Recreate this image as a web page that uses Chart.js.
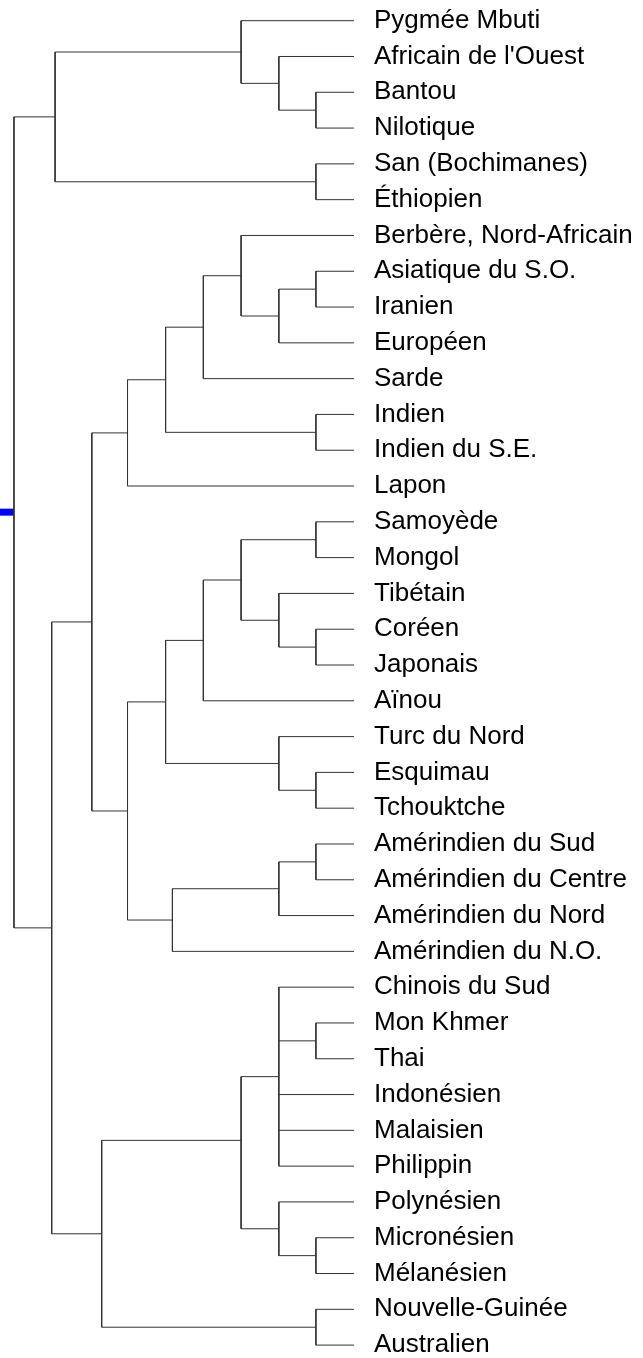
<!DOCTYPE html>
<html>
<head>
<meta charset="utf-8">
<script src="https://cdn.jsdelivr.net/npm/chart.js@4/dist/chart.umd.min.js"></script>
<style>
  html, body { margin: 0; padding: 0; background: #fff; }
  #wrap { position: relative; width: 643px; height: 1358px; }
</style>
</head>
<body>
<div id="wrap"><canvas id="tree"></canvas></div>
<script>
// leaves, top to bottom
const leafNames = [
  "Pygmée Mbuti", "Africain de l'Ouest", "Bantou", "Nilotique",
  "San (Bochimanes)", "Éthiopien", "Berbère, Nord-Africain", "Asiatique du S.O.",
  "Iranien", "Européen", "Sarde", "Indien", "Indien du S.E.", "Lapon",
  "Samoyède", "Mongol", "Tibétain", "Coréen", "Japonais", "Aïnou",
  "Turc du Nord", "Esquimau", "Tchouktche", "Amérindien du Sud",
  "Amérindien du Centre", "Amérindien du Nord", "Amérindien du N.O.",
  "Chinois du Sud", "Mon Khmer", "Thai", "Indonésien", "Malaisien",
  "Philippin", "Polynésien", "Micronésien", "Mélanésien",
  "Nouvelle-Guinée", "Australien"
];

// internal nodes, bottom-up. numbers = leaf index, "N#" = earlier node
const nodeChildren = [
  [2, 3], [1, "N0"], [0, "N1"], [4, 5], ["N2", "N3"],
  [7, 8], ["N5", 9], [6, "N6"], ["N7", 10], [11, 12], ["N8", "N9"], ["N10", 13],
  [14, 15], [17, 18], [16, "N13"], ["N12", "N14"], ["N15", 19],
  [21, 22], [20, "N17"], ["N16", "N18"],
  [23, 24], ["N20", 25], ["N21", 26], ["N19", "N22"], ["N11", "N23"],
  [28, 29], [27, "N25", 30, 31, 32], [34, 35], [33, "N27"], ["N26", "N28"],
  [36, 37], ["N29", "N30"], ["N24", "N31"], ["N4", "N32"]
];

// merge heights (root = 100)
const nodeHeights = [
  11.2, 22.1, 33.2, 11.2, 87.9,
  11.2, 22.1, 33.2, 44.3, 11.2, 55.4, 66.6,
  11.2, 11.2, 22.1, 33.2, 44.3,
  11.2, 22.1, 55.4,
  11.2, 22.1, 53.4, 66.6, 77.1,
  11.2, 22.1, 11.2, 22.1, 33.2,
  11.2, 74.2, 88.9, 100
];

// nodes not drawn at the middle of their children
const rowOverride = { N29: 31.28 };
const stemRow = 13.73;
const heightMax = 104.1;

const rowOf = {};
const heightOf = {};
leafNames.forEach((_, i) => { rowOf[i] = i; heightOf[i] = 0; });

const links = [];
nodeChildren.forEach((kids, n) => {
  const h = nodeHeights[n];
  const rows = kids.map(k => rowOf[k]);
  const top = Math.min(...rows), bottom = Math.max(...rows);
  const id = "N" + n;
  rowOf[id] = rowOverride[id] !== undefined ? rowOverride[id] : (top + bottom) / 2;
  heightOf[id] = h;
  links.push({x: h, y: top}, {x: h, y: bottom}, {x: null, y: null});
  kids.forEach(k => {
    links.push({x: h, y: rowOf[k]}, {x: heightOf[k], y: rowOf[k]}, {x: null, y: null});
  });
});

const rootHeight = nodeHeights[nodeHeights.length - 1];
const stem = [{x: heightMax, y: stemRow}, {x: rootHeight, y: stemRow}];

new Chart(document.getElementById("tree"), {
  type: "line",
  data: {
    datasets: [
      {
        data: links,
        borderColor: "#333",
        borderWidth: 1,
        pointRadius: 0,
        spanGaps: false,
        tension: 0
      },
      {
        data: stem,
        borderColor: "#0000ff",
        borderWidth: 7,
        pointRadius: 0
      }
    ]
  },
  options: {
    responsive: true,
    maintainAspectRatio: false,
    devicePixelRatio: 1,
    animation: false,
    layout: { padding: 0 },
    scales: {
      x: {
        type: "linear",
        min: 0,
        max: heightMax,
        reverse: true,
        bounds: "data",
        display: false
      },
      y: {
        type: "linear",
        position: "right",
        reverse: true,
        min: -0.578,
        max: 37.36,
        bounds: "data",
        grid: { display: false, drawTicks: false, tickLength: 0 },
        border: { display: false },
        afterBuildTicks: (s) => {
          s.ticks = leafNames.map((_, i) => ({ value: i }));
        },
        afterFit: (s) => {
          s.width = 289;
          s.paddingTop = 0;
          s.paddingBottom = 0;
        },
        ticks: {
          autoSkip: false,
          padding: 20,
          color: "#000",
          font: { family: "'Liberation Sans', Arial, sans-serif", size: 26 },
          callback: (v) => leafNames[v]
        }
      }
    },
    plugins: {
      legend: { display: false },
      tooltip: { enabled: false }
    }
  }
});
</script>
</body>
</html>
